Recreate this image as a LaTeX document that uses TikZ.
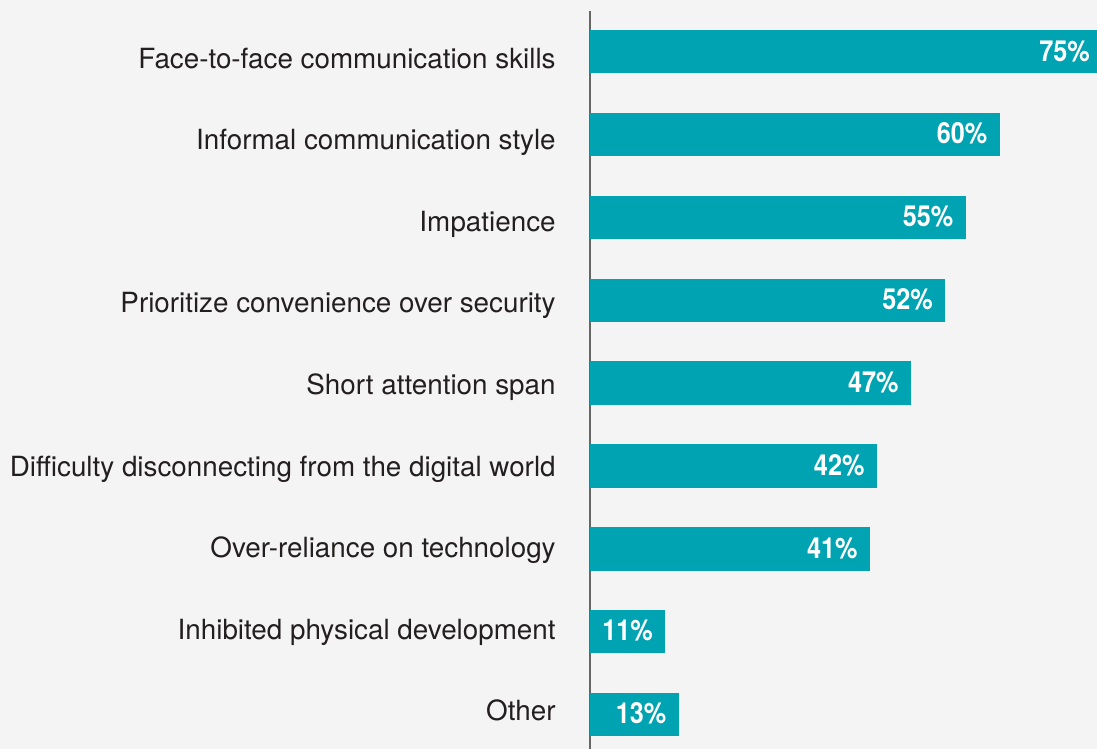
\documentclass[tikz,border=0pt]{standalone}
\usepackage{fontspec}
\setmainfont{TeX Gyre Heros}
\newfontfamily\numfont[FakeStretch=0.87]{TeX Gyre Heros}
\definecolor{barcol}{HTML}{00A3B1}
\definecolor{bgcol}{HTML}{F4F4F4}
\definecolor{txtcol}{HTML}{231F20}
\definecolor{axiscol}{HTML}{666666}
\tikzset{
  barlab/.style={anchor=base east,inner sep=0pt,text=txtcol,font=\fontsize{13.9}{16}\selectfont},
  barval/.style={anchor=base east,inner sep=0pt,text=white,font=\numfont\bfseries\fontsize{14.5}{17}\selectfont},
}
\begin{document}
\begin{tikzpicture}[x=0.5pt,y=-0.5pt]
\fill[bgcol](0,0)rectangle(1097,749);
\clip(0,0)rectangle(1097,749);
\def\s{6.83}
\draw[axiscol,line width=0.75pt](590,11)--(590,749);
\foreach \i/\v/\t in {1/75/Face-to-face communication skills,2/60/Informal communication style,3/55/Impatience,4/52/Prioritize convenience over security,5/47/Short attention span,6/42/Difficulty disconnecting from the digital world,7/41/Over-reliance on technology,8/11/Inhibited physical development,9/13/Other}  {
  \pgfmathsetmacro\y{51.75+82.84*(\i-1)}
  \pgfmathsetmacro\ly{68.3+81.55*(\i-1)}
  \fill[barcol](590,\y-21.75)rectangle(590+\s*\v,\y+21.75);
  \node[barlab](lab\i)at(556,\ly){\t};
  \node[barval](val\i)at(590+\s*\v-12,\y+9.3){\v\%};
}
\end{tikzpicture}
\end{document}
